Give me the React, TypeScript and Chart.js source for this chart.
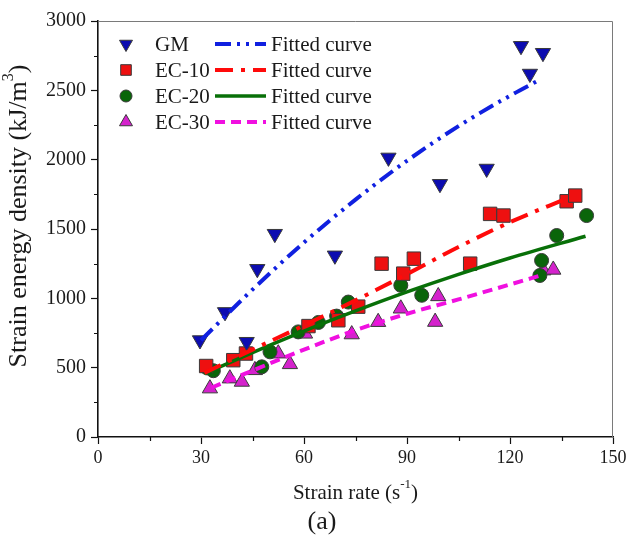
import React, { useEffect, useRef } from "react";
import { Chart, registerables } from "chart.js";

Chart.register(...registerables);

const FONT = '"Liberation Serif", "Times New Roman", serif';
const TEXT = "#1a1a1a";

// Measured strain energy density (kJ/m^3) against strain rate (s^-1)
const gmRate = [29.7, 37, 43.3, 46.4, 51.5, 69, 84.6, 99.6, 113.2, 123.2, 125.8, 129.6];
const gmEnergy = [698, 901, 686, 1212, 1465, 1309, 2015, 1825, 1935, 2820, 2620, 2770];

const ec10Rate = [31.5, 39.4, 43.1, 61.3, 70, 75.8, 82.6, 88.9, 92, 108.4, 114.2, 118.1, 136.5, 139];
const ec10Energy = [512, 554, 602, 800, 842, 940, 1250, 1178, 1286, 1250, 1609, 1597, 1700, 1741];

const ec20Rate = [31.8, 33.6, 47.7, 50.1, 58.3, 64.2, 69.5, 72.9, 88.2, 94.3, 128.7, 129.2, 133.6, 142.3];
const ec20Energy = [498, 478, 506, 614, 758, 826, 872, 973, 1094, 1022, 1165, 1273, 1453, 1597];

const ec30Rate = [32.6, 38.4, 41.9, 45.7, 52.5, 55.9, 60.3, 73.9, 81.6, 88.2, 98.2, 99.1, 129.7, 132.6];
const ec30Energy = [350, 422, 398, 482, 602, 525, 745, 740, 829, 926, 830, 1015, 1201, 1206];

// Fitted curves
const gmFitRate = [30, 45, 60, 75, 90, 105, 120, 128];
const gmFitEnergy = [698, 1063, 1403, 1712, 1992, 2242, 2461, 2568];
const ec10FitRate = [31, 45, 60, 75, 90, 105, 120, 137];
const ec10FitEnergy = [462, 630, 805, 985, 1175, 1370, 1549, 1725];
const ec20FitRate = [31, 45, 60, 75, 90, 105, 120, 142];
const ec20FitEnergy = [456, 609, 764, 909, 1046, 1173, 1291, 1448];
const ec30FitRate = [33, 45, 60, 75, 90, 105, 120, 129];
const ec30FitEnergy = [355, 479, 630, 770, 889, 992, 1100, 1165];

const seriesNames = ["GM", "EC-10", "EC-20", "EC-30"];
const fitName = "Fitted curve";

const X_MIN = 0;
const X_MAX = 150;
const X_STEP = 30;
const Y_MIN = 0;
const Y_MAX = 3000;
const Y_STEP = 500;

type Style = {
  marker: "triangleDown" | "rect" | "circle" | "triangle";
  fill: string;
  line: string;
  width: number;
  dash: number[];
};

const styles: Style[] = [
  { marker: "triangleDown", fill: "#0c0cb0", line: "#1020e0", width: 4, dash: [16, 6, 3, 6, 3, 6] },
  { marker: "rect", fill: "#ee1010", line: "#ff0a0a", width: 4, dash: [18, 8, 4, 8] },
  { marker: "circle", fill: "#0a650a", line: "#087008", width: 3.5, dash: [] },
  { marker: "triangle", fill: "#d422cc", line: "#f010e0", width: 4, dash: [10, 6] },
];

const pts = (xs: number[], ys: number[]) => xs.map((x, i) => ({ x, y: ys[i] }));

function drawMarker(ctx: CanvasRenderingContext2D, kind: Style["marker"], x: number, y: number, r: number, fill: string) {
  ctx.beginPath();
  if (kind === "rect") {
    const s = r * Math.SQRT1_2;
    ctx.rect(x - s, y - s, 2 * s, 2 * s);
  } else if (kind === "circle") {
    ctx.arc(x, y, r * 0.8, 0, Math.PI * 2);
  } else {
    const rot = kind === "triangleDown" ? Math.PI : 0;
    for (let k = 0; k < 3; k++) {
      const a = rot + (k * 2 * Math.PI) / 3;
      const px = x + Math.sin(a) * r;
      const py = y - Math.cos(a) * r;
      if (k === 0) ctx.moveTo(px, py);
      else ctx.lineTo(px, py);
    }
    ctx.closePath();
  }
  ctx.fillStyle = fill;
  ctx.fill();
  ctx.lineWidth = 1;
  ctx.strokeStyle = "#3a3a3a";
  ctx.stroke();
}

function drawRich(
  ctx: CanvasRenderingContext2D,
  parts: { t: string; sup?: boolean }[],
  cx: number,
  cy: number,
  size: number
) {
  const supSize = Math.round(size * 0.62);
  const widths = parts.map((p) => {
    ctx.font = `${p.sup ? supSize : size}px ${FONT}`;
    return ctx.measureText(p.t).width;
  });
  const total = widths.reduce((s, w) => s + w, 0);
  let x = cx - total / 2;
  ctx.textBaseline = "middle";
  ctx.textAlign = "left";
  parts.forEach((p, i) => {
    ctx.font = `${p.sup ? supSize : size}px ${FONT}`;
    ctx.fillText(p.t, x, p.sup ? cy - size * 0.38 : cy);
    x += widths[i];
  });
}

const decorPlugin = {
  id: "decor",
  afterDraw(chart: any) {
    const { ctx, chartArea: a, scales } = chart;
    const xs = scales.x;
    const ys = scales.y;
    ctx.save();

    // frame: top and right edges
    ctx.strokeStyle = "#7a7a7a";
    ctx.lineWidth = 1;
    ctx.beginPath();
    ctx.moveTo(a.left, a.top + 0.5);
    ctx.lineTo(a.right - 0.5, a.top + 0.5);
    ctx.lineTo(a.right - 0.5, a.bottom);
    ctx.stroke();

    // minor ticks
    ctx.strokeStyle = "#111";
    ctx.lineWidth = 1.2;
    ctx.beginPath();
    for (let v = X_MIN + X_STEP / 2; v < X_MAX; v += X_STEP) {
      const px = Math.round(xs.getPixelForValue(v)) + 0.5;
      ctx.moveTo(px, a.bottom);
      ctx.lineTo(px, a.bottom + 4);
    }
    for (let v = Y_MIN + Y_STEP / 2; v < Y_MAX; v += Y_STEP) {
      const py = Math.round(ys.getPixelForValue(v)) + 0.5;
      ctx.moveTo(a.left, py);
      ctx.lineTo(a.left - 4, py);
    }
    ctx.stroke();

    // axis titles
    ctx.fillStyle = TEXT;
    drawRich(ctx, [{ t: "Strain rate (s" }, { t: "-1", sup: true }, { t: ")" }], (a.left + a.right) / 2, 493, 21);
    ctx.save();
    ctx.translate(19, 216);
    ctx.rotate(-Math.PI / 2);
    drawRich(ctx, [{ t: "Strain energy density (kJ/m" }, { t: "3", sup: true }, { t: ")" }], 0, 0, 26);
    ctx.restore();

    // panel label
    ctx.font = `26px ${FONT}`;
    ctx.textAlign = "center";
    ctx.textBaseline = "middle";
    ctx.fillText("(a)", 322, 522);

    // legend
    const rowY = [44, 70, 96, 122];
    seriesNames.forEach((name, i) => {
      const st = styles[i];
      const y = rowY[i];
      drawMarker(ctx, st.marker, 126, y, 7.5, st.fill);
      ctx.fillStyle = TEXT;
      ctx.font = `21px ${FONT}`;
      ctx.textAlign = "left";
      ctx.textBaseline = "middle";
      ctx.fillText(name, 155, y + 1);
      ctx.strokeStyle = st.line;
      ctx.lineWidth = st.width;
      ctx.setLineDash(st.dash);
      ctx.beginPath();
      ctx.moveTo(215, y);
      ctx.lineTo(266, y);
      ctx.stroke();
      ctx.setLineDash([]);
      ctx.fillText(fitName, 271, y + 1);
    });

    ctx.restore();
  },
};

export default function App() {
  const ref = useRef<HTMLCanvasElement | null>(null);

  useEffect(() => {
    const canvas = ref.current;
    if (!canvas) return;

    const measured = [
      pts(gmRate, gmEnergy),
      pts(ec10Rate, ec10Energy),
      pts(ec20Rate, ec20Energy),
      pts(ec30Rate, ec30Energy),
    ];
    const fitted = [
      pts(gmFitRate, gmFitEnergy),
      pts(ec10FitRate, ec10FitEnergy),
      pts(ec20FitRate, ec20FitEnergy),
      pts(ec30FitRate, ec30FitEnergy),
    ];

    const markerSets = measured.map((data, i) => {
      const st = styles[i];
      const pointStyle = st.marker === "triangleDown" ? "triangle" : st.marker;
      return {
        label: seriesNames[i],
        data,
        showLine: false,
        pointStyle,
        pointRotation: st.marker === "triangleDown" ? 180 : 0,
        pointRadius: st.marker === "rect" ? 9.5 : st.marker === "circle" ? 7 : 8.8,
        pointBackgroundColor: st.fill,
        pointBorderColor: "#3a3a3a",
        pointBorderWidth: 1,
        order: 2,
      };
    });

    const fitSets = fitted.map((data, i) => {
      const st = styles[i];
      return {
        label: `${seriesNames[i]} ${fitName}`,
        data,
        showLine: true,
        pointRadius: 0,
        borderColor: st.line,
        borderWidth: st.width,
        borderDash: st.dash,
        borderCapStyle: "butt",
        cubicInterpolationMode: "monotone",
        fill: false,
        order: 1,
      };
    });

    const chart = new Chart(canvas, {
      type: "scatter",
      data: { datasets: [...markerSets, ...fitSets] as any },
      options: {
        animation: false,
        responsive: false,
        maintainAspectRatio: false,
        layout: { padding: { top: 21, right: 17, left: 0, bottom: 0 } },
        plugins: {
          legend: { display: false },
          tooltip: { enabled: false },
        },
        scales: {
          x: {
            type: "linear",
            min: X_MIN,
            max: X_MAX,
            afterFit: (s: any) => {
              s.height = 108;
            },
            ticks: {
              stepSize: X_STEP,
              color: TEXT,
              padding: 3,
              font: { family: FONT, size: 18 },
              callback: (v: any) => String(v),
            },
            grid: {
              drawOnChartArea: false,
              drawTicks: true,
              tickLength: 7,
              tickColor: "#111",
              tickWidth: 1.2,
            },
            border: { display: true, color: "#111", width: 1.6 },
          },
          y: {
            type: "linear",
            min: Y_MIN,
            max: Y_MAX,
            afterFit: (s: any) => {
              s.width = 98;
            },
            ticks: {
              stepSize: Y_STEP,
              color: TEXT,
              padding: 5,
              font: { family: FONT, size: 20 },
              callback: (v: any) => String(v),
            },
            grid: {
              drawOnChartArea: false,
              drawTicks: true,
              tickLength: 7,
              tickColor: "#111",
              tickWidth: 1.2,
            },
            border: { display: true, color: "#111", width: 1.6 },
          },
        },
      },
      plugins: [decorPlugin],
    });

    return () => chart.destroy();
  }, []);

  return (
    <div style={{ position: "absolute", left: 0, top: 0, width: 630, height: 545, background: "#fff" }}>
      <canvas ref={ref} width={630} height={545} style={{ display: "block", width: 630, height: 545 }} />
    </div>
  );
}
